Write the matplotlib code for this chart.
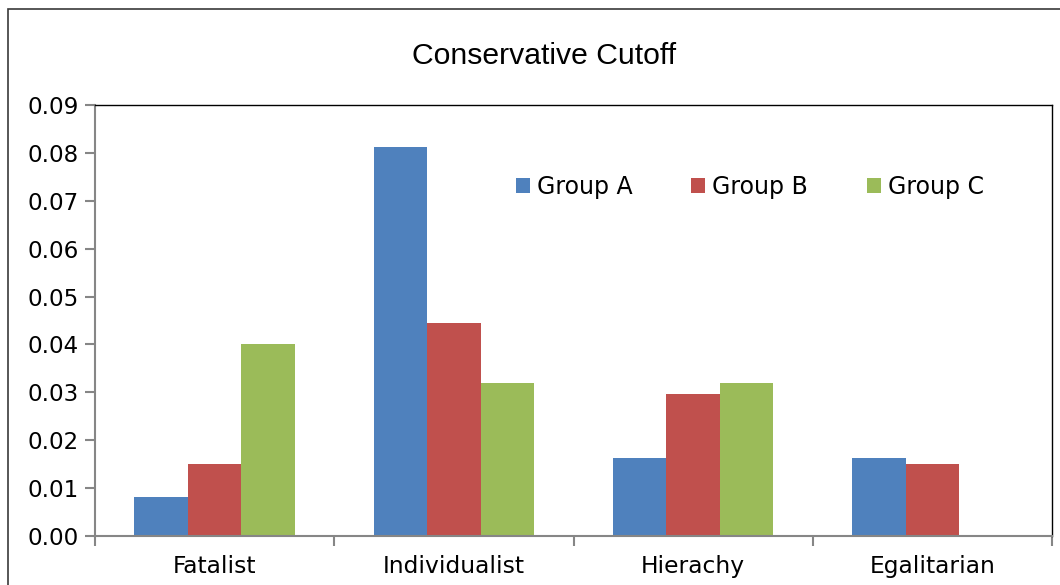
import matplotlib
matplotlib.use("Agg")
import matplotlib.pyplot as plt
from matplotlib.ticker import FormatStrFormatter, FixedLocator
from matplotlib.patches import Rectangle
import numpy as np

# data
categories = ["Fatalist", "Individualist", "Hierachy", "Egalitarian"]
group_a = [0.0081, 0.0812, 0.0163, 0.0163]
group_b = [0.0151, 0.0445, 0.0296, 0.0150]
group_c = [0.0401, 0.0320, 0.0320, 0.0]
groups = ["Group A", "Group B", "Group C"]
colors = ["#4F81BD", "#C0504D", "#9BBB59"]

fig = plt.figure(figsize=(10.6, 5.85), dpi=100)
fig.patch.set_facecolor("white")

# outer chart frame (cut off at right and bottom like the original)
fig.patches.append(Rectangle((8 / 1060, -0.1), 1.2, 1 - 9 / 585 + 0.1,
                             transform=fig.transFigure, fill=False,
                             edgecolor="#3a3a3a", linewidth=1.2))

ax = fig.add_axes([95 / 1060, 49 / 585, 957 / 1060, 431 / 585])

x = np.arange(len(categories))
w = 0.2236
for i, (vals, lab, c) in enumerate(zip([group_a, group_b, group_c], groups, colors)):
    ax.bar(x + (i - 1) * w, vals, w, color=c, label=lab, linewidth=0)

ax.set_xlim(-0.5, len(categories) - 0.5)
ax.set_ylim(0, 0.09)
ax.set_yticks(np.arange(0, 0.0901, 0.01))
ax.yaxis.set_major_formatter(FormatStrFormatter("%.2f"))

ax.set_xticks(x)
ax.set_xticklabels(categories)
ax.xaxis.set_minor_locator(FixedLocator(np.arange(-0.5, len(categories), 1.0)))
ax.tick_params(axis="x", which="major", length=0, pad=13.5, labelsize=16.8)
ax.tick_params(axis="x", which="minor", length=7, width=1.5, color="#868686")
ax.tick_params(axis="y", length=7, width=1.5, color="#868686", pad=4.5, labelsize=16.6)

for s in ["left", "bottom"]:
    ax.spines[s].set_color("#868686")
    ax.spines[s].set_linewidth(1.5)
for s in ["top", "right"]:
    ax.spines[s].set_color("black")
    ax.spines[s].set_linewidth(1.0)

fig.text(544 / 1060, 1 - 56 / 585, "Conservative Cutoff", ha="center", va="center",
         fontsize=21.7, family="Liberation Sans")

ax.legend(loc="center left", bbox_to_anchor=(516 / 1060, 1 - 187 / 585),
          bbox_transform=fig.transFigure, ncol=3, frameon=False, fontsize=17,
          handlelength=0.58, handleheight=0.58, handletextpad=0.3,
          columnspacing=2.5, borderpad=0, borderaxespad=0)

fig.savefig("out.png", dpi=100)
